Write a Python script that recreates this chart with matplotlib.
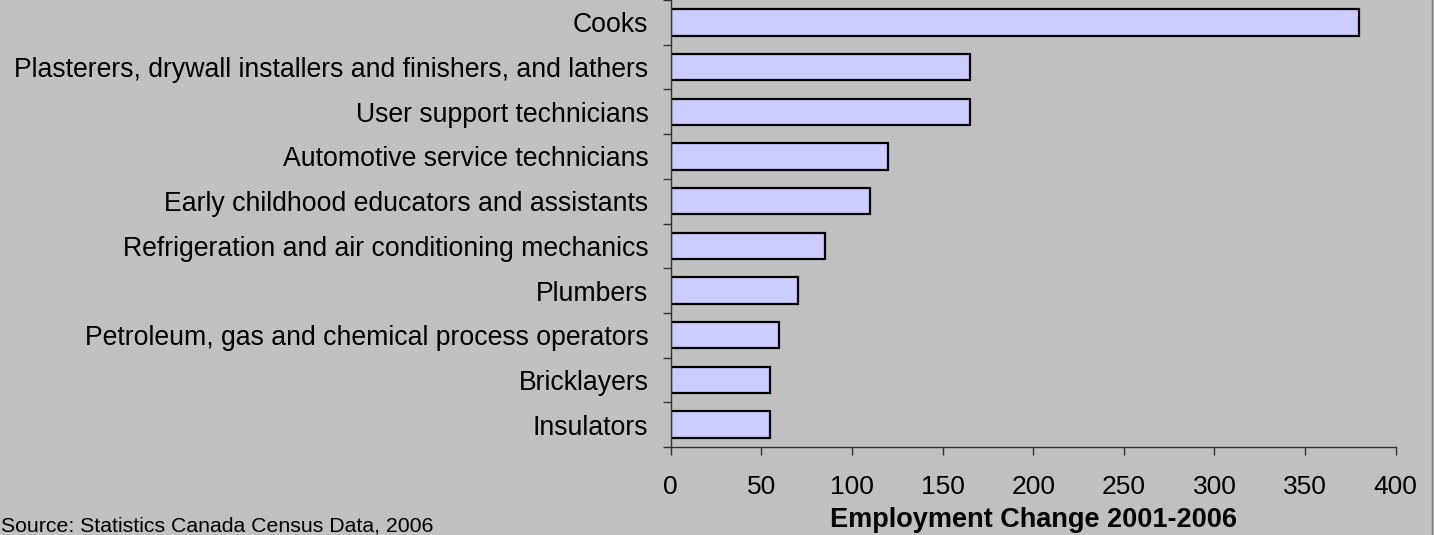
import numpy as np
import matplotlib.pyplot as plt
from matplotlib.lines import Line2D

# occupations, top to bottom
metiers = ["Cooks",
           "Plasterers, drywall installers and finishers, and lathers",
           "User support technicians",
           "Automotive service technicians",
           "Early childhood educators and assistants",
           "Refrigeration and air conditioning mechanics",
           "Plumbers",
           "Petroleum, gas and chemical process operators",
           "Bricklayers",
           "Insulators"]
variation = [380, 165, 165, 120, 110, 85, 70, 60, 55, 55]
xticks = [0, 50, 100, 150, 200, 250, 300, 350, 400]

plt.rcParams['font.family'] = ['Liberation Sans', 'DejaVu Sans']

fig = plt.figure(figsize=(14.34, 5.35), dpi=100, facecolor='#c0c0c0')
ax = fig.add_axes([670.7/1434, 1-447/535, 725/1434, 447/535])
ax.set_facecolor('#c0c0c0')

y = np.arange(len(metiers))
ax.barh(y, variation, height=0.59, color='#ccccff', edgecolor='black', linewidth=1.6)

ax.set_xlim(0, 400)
ax.set_ylim(len(metiers)-0.5, -0.5)
ax.set_xticks(xticks)
ax.set_xticklabels([str(v) for v in xticks], fontsize=19)
ax.set_yticks(y)
ax.set_yticklabels(metiers, fontsize=19.2)
ax.set_yticks(np.arange(len(metiers)+1)-0.5, minor=True)

ax.tick_params(axis='y', which='major', length=0, pad=16)
ax.tick_params(axis='y', which='minor', length=5.5, width=1, direction='out', color='#333333')
ax.tick_params(axis='x', length=5.5, width=1, direction='out', color='#333333', pad=14.5)

for s in ['top', 'right']:
    ax.spines[s].set_visible(False)
for s in ['left', 'bottom']:
    ax.spines[s].set_color('#333333')
    ax.spines[s].set_linewidth(1)

ax.set_xlabel("Employment Change 2001-2006", fontsize=19.5, fontweight='bold', labelpad=6)

fig.text(0.001, 0.0, "Source: Statistics Canada Census Data, 2006", fontsize=15.3, ha='left', va='bottom')
fig.add_artist(Line2D([1432/1434, 1432/1434], [0, 1], color='#808080', linewidth=1))

fig.savefig("out.png", dpi=100, facecolor='#c0c0c0')
